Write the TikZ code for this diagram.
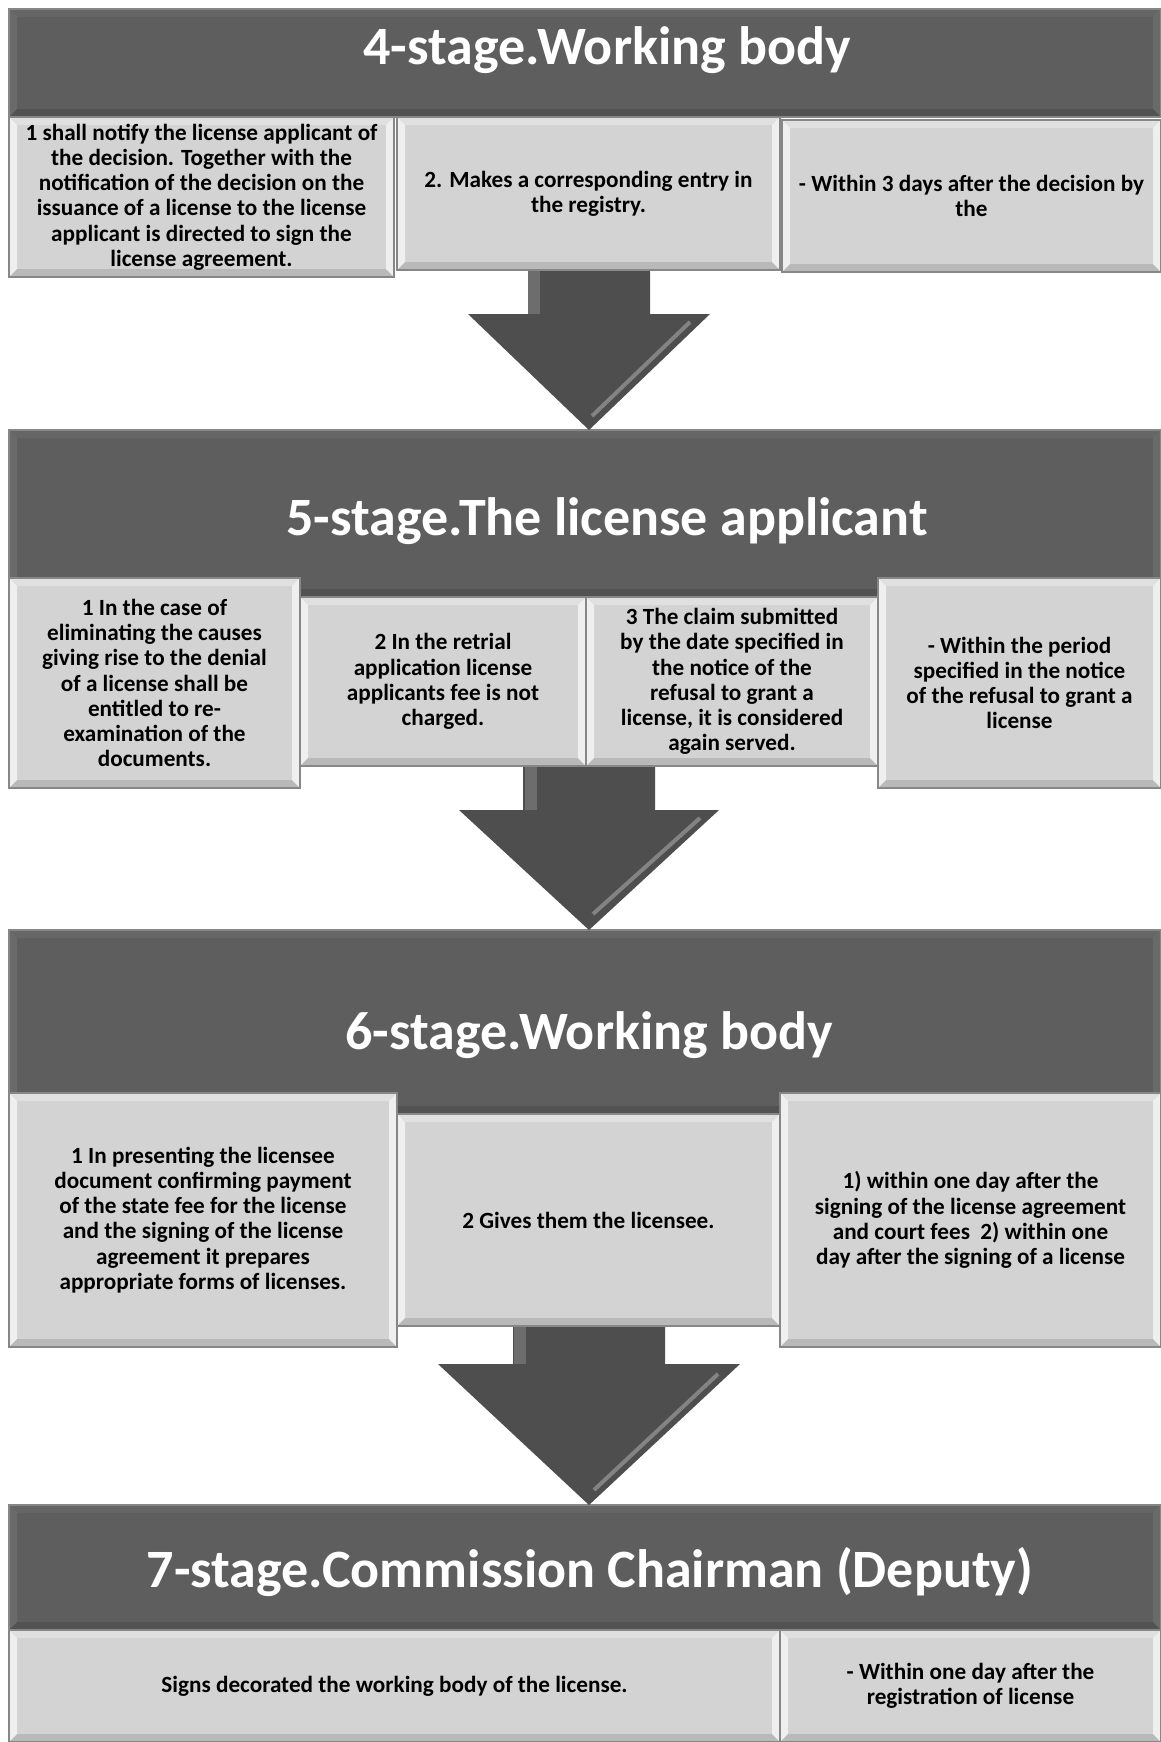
\documentclass[tikz,border=0pt]{standalone}
\usepackage{fontspec}
\setmainfont{Carlito}
\usetikzlibrary{calc,positioning}
\definecolor{HeadGray}{RGB}{94,94,94}
\definecolor{BoxGray}{RGB}{211,211,211}
\definecolor{ArrowGray}{RGB}{78,78,78}
\definecolor{EdgeGray}{RGB}{135,135,135}
\tikzset{
  bevel/.style n args={2}{path picture={
    \coordinate (pbnw) at (path picture bounding box.north west);
    \coordinate (pbne) at (path picture bounding box.north east);
    \coordinate (pbsw) at (path picture bounding box.south west);
    \coordinate (pbse) at (path picture bounding box.south east);
    \fill[white,opacity=#1] (pbnw) -- (pbsw) -- ([shift={(4pt,4pt)}]pbsw) -- ([shift={(4pt,-4pt)}]pbnw) -- cycle;
    \fill[white,opacity=#1] (pbne) -- (pbse) -- ([shift={(-4pt,4pt)}]pbse) -- ([shift={(-4pt,-4pt)}]pbne) -- cycle;
    \fill[white,opacity=#2] (pbnw) -- (pbne) -- ([shift={(-4pt,-4pt)}]pbne) -- ([shift={(4pt,-4pt)}]pbnw) -- cycle;
    \fill[black,opacity=.12] (pbsw) -- (pbse) -- ([shift={(-4pt,4pt)}]pbse) -- ([shift={(4pt,4pt)}]pbsw) -- cycle;
  }},
  head/.style={fill=HeadGray, draw=EdgeGray, line width=.6pt, inner sep=0pt, bevel={.08}{.05}},
  item/.style={fill=BoxGray, draw=EdgeGray, line width=.6pt, inner sep=0pt, bevel={.65}{.3},
    align=center, text=black, font=\bfseries\fontsize{11.6}{12.6}\selectfont},
  title/.style={text=white, font=\bfseries\fontsize{27}{30}\selectfont},
  blockarrow/.style={fill=ArrowGray},
  shine/.style={white, opacity=.3, line width=2pt}
}
\begin{document}
\begin{tikzpicture}[x=0.5pt,y=-0.5pt]
\fill[white] (0,0) rectangle (1161,1742);
\useasboundingbox (0,0) rectangle (1161,1742);
% headers
\node[head, minimum width=576pt, minimum height=54pt] (h4) at (585,63) {};
\node[head, minimum width=576pt, minimum height=83.5pt] (h5) at (585,513.5) {};
\node[head, minimum width=576pt, minimum height=92pt] (h6) at (585,1022) {};
\node[head, minimum width=576pt, minimum height=62.5pt] (h7) at (585,1567.5) {};
\node[title] (t4) at (607,50) {4-stage.Working body};
\node[title] (t5) at (607,521) {5-stage.The license applicant};
\node[title] (t6) at (589,1035) {6-stage.Working body};
\node[title] (t7) at (590,1572) {7-stage.Commission Chairman (Deputy)};
% block arrows between the stages
\coordinate (a1) at (589,430);
\coordinate (a2) at (589,930);
\coordinate (a3) at (589,1505);
\fill[blockarrow] (a1) -- ++(-121,-116) -- ++(60,0) -- ++(0,-70) -- ++(122,0) -- ++(0,70) -- ++(60,0) -- cycle;
\fill[white,opacity=.18] (528,244) rectangle (540,314);
\draw[shine] (690,322) -- (592,416);
\fill[blockarrow] (a2) -- ++(-130,-120) -- ++(64,0) -- ++(0,-80) -- ++(132,0) -- ++(0,80) -- ++(64,0) -- cycle;
\fill[white,opacity=.18] (525,730) rectangle (537,810);
\draw[shine] (700,818) -- (593,914);
\fill[blockarrow] (a3) -- ++(-151,-141) -- ++(75,0) -- ++(0,-70) -- ++(152,0) -- ++(0,70) -- ++(75,0) -- cycle;
\fill[white,opacity=.18] (514,1294) rectangle (526,1364);
\draw[shine] (718,1374) -- (594,1490);
% stage 4
\node[item, minimum width=192.5pt, minimum height=80pt] (b41) at (201.5,197) {1 shall notify the license applicant of\\the decision. Together with the\\notification of the decision on the\\issuance of a license to the license\\applicant is directed to sign the\\license agreement.};
\node[item, minimum width=191.5pt, minimum height=76.5pt] (b42) at (588.5,193.5) {2. Makes a corresponding entry in\\the registry.};
\node[item, minimum width=189.5pt, minimum height=76pt] (b43) at (971.5,196) {- Within 3 days after the decision by\\the};
% stage 5
\node[item, minimum width=145.5pt, minimum height=105pt] (b51) at (154.5,683) {1 In the case of\\eliminating the causes\\giving rise to the denial\\of a license shall be\\entitled to re-\\examination of the\\documents.};
\node[item, minimum width=143pt, minimum height=84.5pt] (b52) at (443,681.5) {2 In the retrial\\application license\\applicants fee is not\\charged.};
\node[item, minimum width=146pt, minimum height=84.5pt] (b53) at (732,681.5) {3 The claim submitted\\by the date specified in\\the notice of the\\refusal to grant a\\license, it is considered\\again served.};
\node[item, minimum width=141.5pt, minimum height=105pt] (b54) at (1019.5,683) {- Within the period\\specified in the notice\\of the refusal to grant a\\license};
% stage 6
\node[item, minimum width=194pt, minimum height=127pt] (b61) at (203,1220) {1 In presenting the licensee\\document confirming payment\\of the state fee for the license\\and the signing of the license\\agreement it prepares\\appropriate forms of licenses.};
\node[item, minimum width=191.5pt, minimum height=106pt] (b62) at (588.5,1220) {2 Gives them the licensee.};
\node[item, minimum width=190.5pt, minimum height=127pt] (b63) at (970.5,1220) {1) within one day after the\\signing of the license agreement\\and court fees\ \ 2) within one\\day after the signing of a license};
% stage 7
\node[item, minimum width=385.5pt, minimum height=56pt] (b71) at (394.5,1686) {Signs decorated the working body of the license.};
\node[item, minimum width=190.5pt, minimum height=56pt] (b72) at (970.5,1686) {- Within one day after the\\registration of license};
\end{tikzpicture}
\end{document}
